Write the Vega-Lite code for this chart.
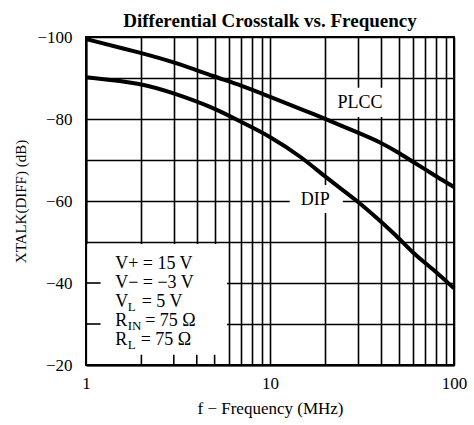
{
  "$schema": "https://vega.github.io/schema/vega-lite/v6.json",
  "autosize": {"type": "none"},
  "padding": {"left": 86, "top": 37, "right": 20, "bottom": 60},
  "width": 368,
  "height": 328,
  "background": "white",
  "config": {
    "font": "Liberation Serif",
    "view": {"stroke": "black", "strokeWidth": 2},
    "axis": {
      "grid": true,
      "gridColor": "black",
      "gridOpacity": 1,
      "gridWidth": 1.6,
      "ticks": false,
      "domain": true,
      "domainColor": "black",
      "domainWidth": 2,
      "labelColor": "black",
      "titleColor": "black",
      "labelFont": "Liberation Serif",
      "titleFont": "Liberation Serif",
      "labelFontSize": 17,
      "titleFontSize": 17,
      "titleFontWeight": "normal",
      "labelOverlap": false,
      "labelFlush": false
    }
  },
  "title": {
    "text": "Differential Crosstalk vs. Frequency",
    "font": "Liberation Serif",
    "fontSize": 19,
    "fontWeight": "bold",
    "color": "black",
    "anchor": "middle",
    "offset": -3
  },
  "datasets": {
    "curves": [
      {"series": "PLCC", "f": 1, "db": -99.5},
      {"series": "PLCC", "f": 2, "db": -96.1},
      {"series": "PLCC", "f": 3, "db": -93.9},
      {"series": "PLCC", "f": 5, "db": -90.3},
      {"series": "PLCC", "f": 7, "db": -88.2},
      {"series": "PLCC", "f": 10, "db": -85.4},
      {"series": "PLCC", "f": 15, "db": -82.3},
      {"series": "PLCC", "f": 20, "db": -80.0},
      {"series": "PLCC", "f": 30, "db": -76.7},
      {"series": "PLCC", "f": 40, "db": -74.3},
      {"series": "PLCC", "f": 50, "db": -71.8},
      {"series": "PLCC", "f": 60, "db": -69.5},
      {"series": "PLCC", "f": 70, "db": -67.7},
      {"series": "PLCC", "f": 80, "db": -66.0},
      {"series": "PLCC", "f": 100, "db": -63.4},
      {"series": "DIP", "f": 1, "db": -90.2},
      {"series": "DIP", "f": 2, "db": -88.8},
      {"series": "DIP", "f": 3, "db": -86.3},
      {"series": "DIP", "f": 5, "db": -82.7},
      {"series": "DIP", "f": 7, "db": -79.2},
      {"series": "DIP", "f": 10, "db": -75.8},
      {"series": "DIP", "f": 15, "db": -70.6},
      {"series": "DIP", "f": 20, "db": -65.8},
      {"series": "DIP", "f": 30, "db": -60.0},
      {"series": "DIP", "f": 40, "db": -55.0},
      {"series": "DIP", "f": 50, "db": -51.0},
      {"series": "DIP", "f": 60, "db": -47.3},
      {"series": "DIP", "f": 70, "db": -44.8},
      {"series": "DIP", "f": 80, "db": -42.7},
      {"series": "DIP", "f": 100, "db": -38.7}
    ],
    "bottomTicks": [{"f": 2}, {"f": 3}, {"f": 4}, {"f": 5}],
    "leftTicks": [{"db": -40}, {"db": -30}],
    "labels": [
      {"name": "PLCC", "f": 30.8, "db": -83.9, "f1": 22.6, "f2": 42.7, "y1": -87.6, "y2": -80.5},
      {"name": "DIP", "f": 17.6, "db": -60.2, "f1": 12.8, "f2": 24.9, "y1": -63.9, "y2": -57.1}
    ],
    "conditions": [
      {
        "text": "V+ = 15 V\nV− = −3 V\nV\u00a0\u00a0 = 5 V\nR\u00a0\u00a0\u00a0 = 75 Ω\nR\u00a0\u00a0 = 75 Ω",
        "sub": "L\nIN\nL"
      }
    ]
  },
  "layer": [
    {
      "data": {"name": "curves"},
      "mark": {"type": "line", "strokeOpacity": 0},
      "encoding": {
        "x": {
          "field": "f", "type": "quantitative",
          "scale": {"type": "log", "domain": [1, 100]},
          "axis": {
            "values": [1, 2, 3, 4, 5, 6, 7, 8, 9, 10, 20, 30, 40, 50, 60, 70, 80, 90, 100],
            "labelExpr": "indexof([1, 10, 100], datum.value) >= 0 ? format(datum.value, 'd') : ''",
            "labelPadding": 10,
            "title": "f − Frequency (MHz)",
            "titlePadding": 9
          }
        },
        "y": {
          "field": "db", "type": "quantitative",
          "scale": {"domain": [-100, -20], "reverse": true},
          "axis": {
            "values": [-100, -90, -80, -70, -60, -50, -40, -30, -20],
            "labelExpr": "datum.value % 20 == 0 ? '−' + abs(datum.value) : ''",
            "labelPadding": 14,
            "title": "XTALK(DIFF) (dB)",
            "titleFontSize": 15,
            "titlePadding": 8
          }
        },
        "detail": {"field": "series"}
      }
    },
    {
      "data": {"values": [{}]},
      "mark": {"type": "rect", "fill": "white"},
      "encoding": {
        "x": {"datum": 1.015, "type": "quantitative"},
        "x2": {"datum": 5.84},
        "y": {"datum": -49.5, "type": "quantitative"},
        "y2": {"datum": -20.25}
      }
    },
    {
      "data": {"name": "labels"},
      "mark": {"type": "rect", "fill": "white"},
      "encoding": {
        "x": {"field": "f1", "type": "quantitative"},
        "x2": {"field": "f2"},
        "y": {"field": "y1", "type": "quantitative"},
        "y2": {"field": "y2"}
      }
    },
    {
      "data": {"name": "bottomTicks"},
      "mark": {"type": "rule", "color": "black", "strokeWidth": 1.6},
      "encoding": {
        "x": {"field": "f", "type": "quantitative"},
        "y": {"datum": -20, "type": "quantitative"},
        "y2": {"datum": -22.5}
      }
    },
    {
      "data": {"name": "leftTicks"},
      "mark": {"type": "rule", "color": "black", "strokeWidth": 1.6},
      "encoding": {
        "y": {"field": "db", "type": "quantitative"},
        "x": {"datum": 1, "type": "quantitative"},
        "x2": {"datum": 1.2}
      }
    },
    {
      "data": {"name": "curves"},
      "mark": {"type": "line", "color": "black", "strokeWidth": 4, "interpolate": "basis"},
      "encoding": {
        "x": {"field": "f", "type": "quantitative"},
        "y": {"field": "db", "type": "quantitative"},
        "detail": {"field": "series"}
      }
    },
    {
      "data": {"name": "labels"},
      "mark": {"type": "text", "fontSize": 18, "color": "black", "align": "center", "baseline": "middle"},
      "encoding": {
        "x": {"field": "f", "type": "quantitative"},
        "y": {"field": "db", "type": "quantitative"},
        "text": {"field": "name"}
      }
    },
    {
      "data": {"name": "conditions"},
      "mark": {"type": "text", "fontSize": 18, "color": "black", "align": "left", "baseline": "alphabetic", "lineBreak": "\n", "lineHeight": 19},
      "encoding": {
        "x": {"datum": 1.44, "type": "quantitative"},
        "y": {"datum": -43.4, "type": "quantitative"},
        "text": {"field": "text"}
      }
    },
    {
      "data": {"name": "conditions"},
      "mark": {"type": "text", "fontSize": 13, "color": "black", "align": "left", "baseline": "alphabetic", "lineBreak": "\n", "lineHeight": 19, "dx": 12.5, "dy": 4},
      "encoding": {
        "x": {"datum": 1.44, "type": "quantitative"},
        "y": {"datum": -34.13, "type": "quantitative"},
        "text": {"field": "sub"}
      }
    }
  ]
}
